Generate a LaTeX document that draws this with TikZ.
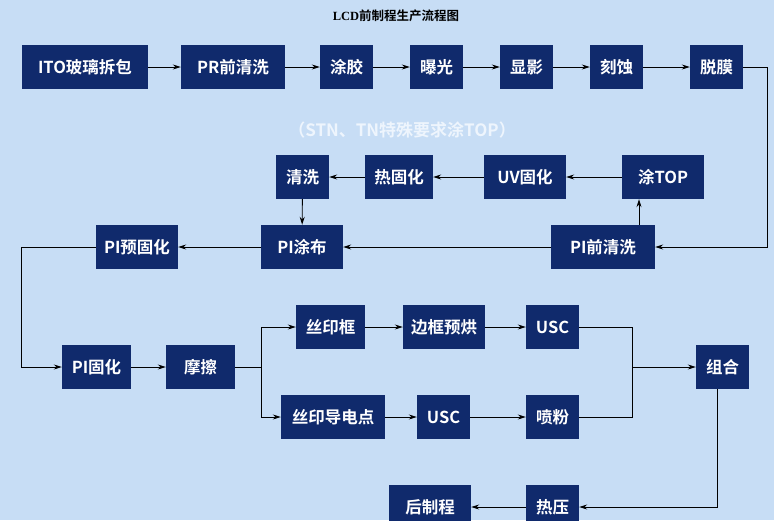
\documentclass[tikz,border=0pt]{standalone}
\usepackage{fontspec}
\setmainfont{Noto Sans CJK SC}[BoldFont={* Bold}]
\newfontfamily\cjkb{Noto Sans CJK SC Bold}
\newfontfamily\serifb{Liberation Serif}[BoldFont={* Bold}]
\usetikzlibrary{arrows.meta}
\definecolor{bgc}{HTML}{C7DDF5}
\definecolor{boxc}{HTML}{102A6C}
\definecolor{notec}{HTML}{EEF5FD}
\begin{document}
\begin{tikzpicture}[x=1pt,y=-1pt,
  proc/.style={fill=boxc,text=white,inner sep=0pt,minimum height=44pt,font=\cjkb\fontsize{16.5}{18}\selectfont},
  conn/.style={line width=0.9pt,-{Stealth[length=8pt,width=5pt]}},
  wire/.style={line width=0.9pt}]
\fill[bgc] (0,0) rectangle (774,520);
\useasboundingbox (0,0) rectangle (774,520);
\node[font=\fontsize{12.5}{14}\selectfont] (title) at (396,16) {{\serifb\bfseries LCD}{\cjkb 前制程生产流程图}};
\node[text=notec,font=\cjkb\fontsize{17}{19}\selectfont] (note) at (402,130) {（STN、TN特殊要求涂TOP）};
% row 1
\node[proc,minimum width=126pt] (ito) at (85,67) {ITO玻璃拆包};
\node[proc,minimum width=104pt] (pr) at (233,67) {PR前清洗};
\node[proc,minimum width=53pt] (tj) at (346.5,67) {涂胶};
\node[proc,minimum width=53pt] (bg) at (436.5,67) {曝光};
\node[proc,minimum width=53pt] (xy) at (526.5,67) {显影};
\node[proc,minimum width=53pt] (ks) at (616.5,67) {刻蚀};
\node[proc,minimum width=53pt] (tm) at (716.5,67) {脱膜};
% row 2
\node[proc,minimum width=53pt] (qx) at (302.5,177) {清洗};
\node[proc,minimum width=68pt] (rgh) at (399,177) {热固化};
\node[proc,minimum width=82pt] (uv) at (525,177) {UV固化};
\node[proc,minimum width=82pt] (top) at (663,177) {涂TOP};
% row 3
\node[proc,minimum width=82pt] (pyg) at (137,247) {PI预固化};
\node[proc,minimum width=82pt] (ptb) at (302,247) {PI涂布};
\node[proc,minimum width=104pt] (pqq) at (603,247) {PI前清洗};
% row 4
\node[proc,minimum width=69pt] (pig) at (96.5,367) {PI固化};
\node[proc,minimum width=69pt] (mc) at (200.5,367) {摩擦};
\node[proc,minimum width=69pt] (syk) at (330.5,327) {丝印框};
\node[proc,minimum width=82pt] (bkyh) at (444,327) {边框预烘};
\node[proc,minimum width=53pt] (usca) at (552.5,327) {USC};
\node[proc,minimum width=104pt] (sydd) at (333,417) {丝印导电点};
\node[proc,minimum width=53pt] (uscb) at (443.5,417) {USC};
\node[proc,minimum width=53pt] (pf) at (552.5,417) {喷粉};
\node[proc,minimum width=53pt] (zh) at (722.5,367) {组合};
% row 5
\node[proc,minimum width=53pt] (hy) at (552.5,507) {热压};
\node[proc,minimum width=82pt] (hzc) at (430,507) {后制程};
% helper coordinates
\coordinate (rx) at (767,0);
\coordinate (lx) at (21,0);
\coordinate (bx) at (261,0);
\coordinate (mx) at (632,0);
\coordinate (tx) at (639,0);
\coordinate (zx) at (717,0);
% connectors row 1
\draw[conn] (ito) -- (pr);
\draw[conn] (pr) -- (tj);
\draw[conn] (tj) -- (bg);
\draw[conn] (bg) -- (xy);
\draw[conn] (xy) -- (ks);
\draw[conn] (ks) -- (tm);
\draw[conn] (tm.east) -- (tm.east -| rx) -- (pqq.east -| rx) -- (pqq.east);
% row 2/3
\draw[conn] (pqq.north -| tx) -- (top.south -| tx);
\draw[conn] (top) -- (uv);
\draw[conn] (uv) -- (rgh);
\draw[conn] (rgh) -- (qx);
\draw[conn] (qx) -- (ptb);
\draw[conn] (pqq) -- (ptb);
\draw[conn] (ptb) -- (pyg);
\draw[conn] (pyg.west) -- (pyg.west -| lx) -- (pig.west -| lx) -- (pig.west);
% row 4
\draw[conn] (pig) -- (mc);
\draw[wire] (mc.east) -- (mc.east -| bx);
\draw[conn] (syk.west -| bx) -- (syk.west);
\draw[conn] (sydd.west -| bx) -- (sydd.west);
\draw[wire] (syk.west -| bx) -- (sydd.west -| bx);
\draw[conn] (syk) -- (bkyh);
\draw[conn] (bkyh) -- (usca);
\draw[conn] (sydd) -- (uscb);
\draw[conn] (uscb) -- (pf);
\draw[wire] (usca.east) -- (usca.east -| mx) -- (pf.east -| mx) -- (pf.east);
\draw[conn] (zh.west -| mx) -- (zh.west);
% row 5
\draw[conn] (zh.south -| zx) -- (hy.east -| zx) -- (hy.east);
\draw[conn] (hy) -- (hzc);
\end{tikzpicture}
\end{document}
